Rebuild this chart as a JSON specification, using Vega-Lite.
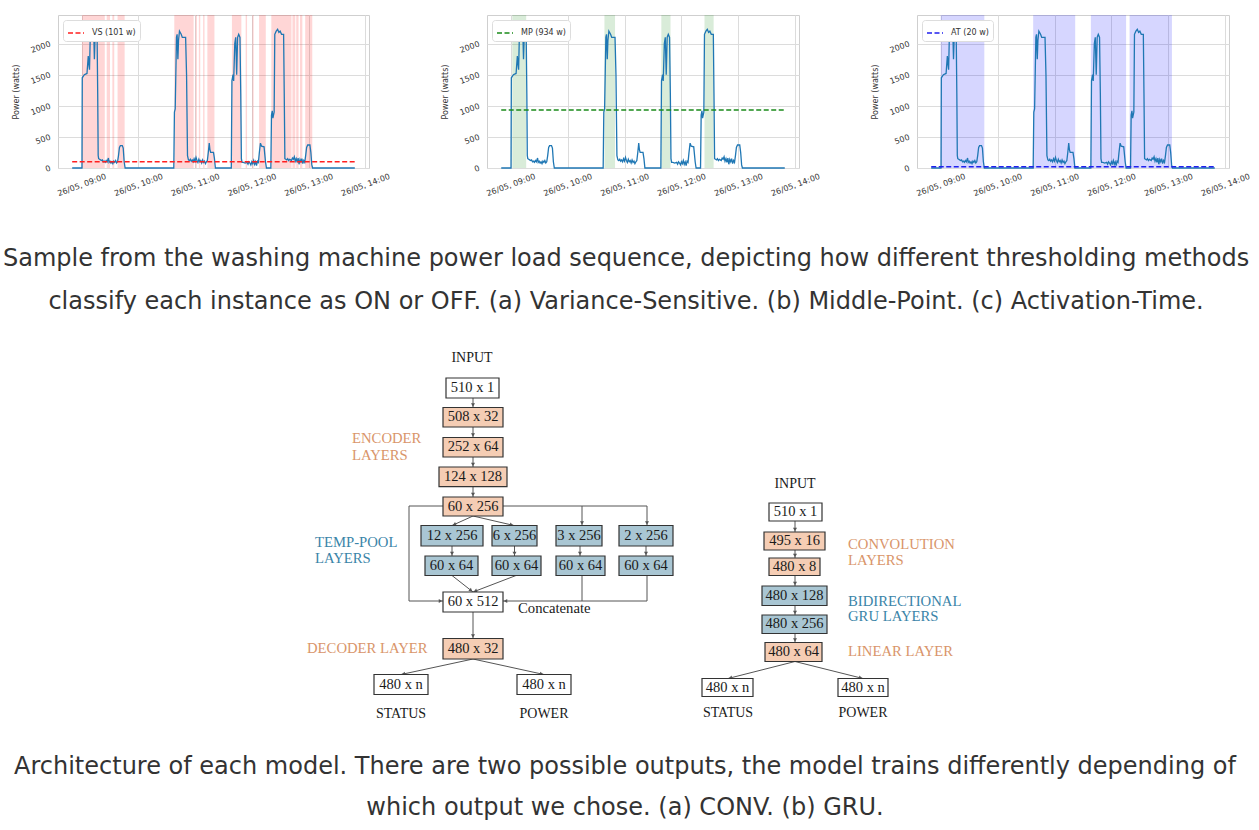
{
  "$schema": "https://vega.github.io/schema/vega-lite/v6.json",
  "background": "white",
  "padding": {"left": 2, "top": 14, "right": 0, "bottom": 0},
  "config": {
    "font": "DejaVu Sans",
    "view": {"stroke": "#cfcfcf", "strokeWidth": 1},
    "axis": {"domain": false, "ticks": false, "gridColor": "#dcdcdc", "gridWidth": 1, "labelFont": "DejaVu Sans", "labelFontSize": 8, "labelColor": "#333", "titleFont": "DejaVu Sans", "titleFontSize": 8, "titleFontWeight": "normal", "titleColor": "#333"}
  },
  "datasets": {
    "power": [
      {"t": "2021-05-26T08:50:00", "w": 0}, {"t": "2021-05-26T09:00:20", "w": 0}, {"t": "2021-05-26T09:00:40", "w": 1450}, {"t": "2021-05-26T09:02:50", "w": 1500}, {"t": "2021-05-26T09:05:40", "w": 1520}, {"t": "2021-05-26T09:07:00", "w": 1800}, {"t": "2021-05-26T09:07:50", "w": 1650}, {"t": "2021-05-26T09:08:20", "w": 1580}, {"t": "2021-05-26T09:09:10", "w": 2150}, {"t": "2021-05-26T09:10:00", "w": 2100}, {"t": "2021-05-26T09:11:00", "w": 2200}, {"t": "2021-05-26T09:11:40", "w": 2150}, {"t": "2021-05-26T09:12:50", "w": 2150}, {"t": "2021-05-26T09:13:30", "w": 1750}, {"t": "2021-05-26T09:14:20", "w": 2150}, {"t": "2021-05-26T09:16:20", "w": 2150}, {"t": "2021-05-26T09:17:00", "w": 1200}, {"t": "2021-05-26T09:17:30", "w": 200}, {"t": "2021-05-26T09:18:00", "w": 150}, {"t": "2021-05-26T09:19:00", "w": 140}, {"t": "2021-05-26T09:20:00", "w": 130}, {"t": "2021-05-26T09:21:00", "w": 120}, {"t": "2021-05-26T09:22:00", "w": 130}, {"t": "2021-05-26T09:23:00", "w": 100}, {"t": "2021-05-26T09:24:00", "w": 110}, {"t": "2021-05-26T09:25:00", "w": 90}, {"t": "2021-05-26T09:26:00", "w": 120}, {"t": "2021-05-26T09:27:00", "w": 100}, {"t": "2021-05-26T09:28:20", "w": 160}, {"t": "2021-05-26T09:29:00", "w": 90}, {"t": "2021-05-26T09:30:00", "w": 110}, {"t": "2021-05-26T09:31:00", "w": 80}, {"t": "2021-05-26T09:32:00", "w": 100}, {"t": "2021-05-26T09:33:00", "w": 70}, {"t": "2021-05-26T09:34:00", "w": 110}, {"t": "2021-05-26T09:35:00", "w": 90}, {"t": "2021-05-26T09:36:00", "w": 120}, {"t": "2021-05-26T09:37:00", "w": 80}, {"t": "2021-05-26T09:38:00", "w": 100}, {"t": "2021-05-26T09:39:00", "w": 200}, {"t": "2021-05-26T09:40:00", "w": 330}, {"t": "2021-05-26T09:41:00", "w": 360}, {"t": "2021-05-26T09:43:00", "w": 360}, {"t": "2021-05-26T09:44:00", "w": 320}, {"t": "2021-05-26T09:45:00", "w": 100}, {"t": "2021-05-26T09:46:00", "w": 0},
      {"t": "2021-05-26T10:37:30", "w": 0}, {"t": "2021-05-26T10:38:10", "w": 900}, {"t": "2021-05-26T10:39:00", "w": 950}, {"t": "2021-05-26T10:40:20", "w": 2100}, {"t": "2021-05-26T10:41:00", "w": 2150}, {"t": "2021-05-26T10:41:50", "w": 1750}, {"t": "2021-05-26T10:42:30", "w": 2050}, {"t": "2021-05-26T10:43:30", "w": 2200}, {"t": "2021-05-26T10:45:20", "w": 2150}, {"t": "2021-05-26T10:46:30", "w": 2100}, {"t": "2021-05-26T10:50:00", "w": 2100}, {"t": "2021-05-26T10:51:00", "w": 1500}, {"t": "2021-05-26T10:52:00", "w": 200}, {"t": "2021-05-26T10:53:00", "w": 130}, {"t": "2021-05-26T10:54:00", "w": 120}, {"t": "2021-05-26T10:55:00", "w": 140}, {"t": "2021-05-26T10:56:00", "w": 110}, {"t": "2021-05-26T10:57:00", "w": 130}, {"t": "2021-05-26T10:58:00", "w": 100}, {"t": "2021-05-26T10:59:00", "w": 150}, {"t": "2021-05-26T11:00:00", "w": 110}, {"t": "2021-05-26T11:01:00", "w": 170}, {"t": "2021-05-26T11:02:00", "w": 120}, {"t": "2021-05-26T11:03:00", "w": 90}, {"t": "2021-05-26T11:04:00", "w": 140}, {"t": "2021-05-26T11:05:00", "w": 100}, {"t": "2021-05-26T11:06:00", "w": 120}, {"t": "2021-05-26T11:07:00", "w": 80}, {"t": "2021-05-26T11:08:00", "w": 130}, {"t": "2021-05-26T11:09:00", "w": 90}, {"t": "2021-05-26T11:10:00", "w": 110}, {"t": "2021-05-26T11:11:00", "w": 70}, {"t": "2021-05-26T11:12:00", "w": 100}, {"t": "2021-05-26T11:13:00", "w": 120}, {"t": "2021-05-26T11:14:00", "w": 250}, {"t": "2021-05-26T11:15:00", "w": 400}, {"t": "2021-05-26T11:15:40", "w": 300}, {"t": "2021-05-26T11:16:30", "w": 250}, {"t": "2021-05-26T11:19:30", "w": 250}, {"t": "2021-05-26T11:20:30", "w": 150}, {"t": "2021-05-26T11:21:30", "w": 0},
      {"t": "2021-05-26T11:38:20", "w": 0}, {"t": "2021-05-26T11:39:00", "w": 1400}, {"t": "2021-05-26T11:40:10", "w": 1500}, {"t": "2021-05-26T11:40:50", "w": 1400}, {"t": "2021-05-26T11:42:00", "w": 2000}, {"t": "2021-05-26T11:43:00", "w": 2100}, {"t": "2021-05-26T11:44:00", "w": 1500}, {"t": "2021-05-26T11:45:00", "w": 2100}, {"t": "2021-05-26T11:46:10", "w": 2150}, {"t": "2021-05-26T11:47:30", "w": 2100}, {"t": "2021-05-26T11:48:20", "w": 1200}, {"t": "2021-05-26T11:49:00", "w": 150}, {"t": "2021-05-26T11:49:40", "w": 90}, {"t": "2021-05-26T11:51:00", "w": 90}, {"t": "2021-05-26T11:53:00", "w": 80}, {"t": "2021-05-26T11:55:00", "w": 90}, {"t": "2021-05-26T11:56:00", "w": 60}, {"t": "2021-05-26T11:57:00", "w": 100}, {"t": "2021-05-26T11:58:00", "w": 80}, {"t": "2021-05-26T11:59:00", "w": 50}, {"t": "2021-05-26T12:00:00", "w": 100}, {"t": "2021-05-26T12:01:00", "w": 70}, {"t": "2021-05-26T12:02:00", "w": 120}, {"t": "2021-05-26T12:03:00", "w": 60}, {"t": "2021-05-26T12:04:00", "w": 100}, {"t": "2021-05-26T12:05:00", "w": 40}, {"t": "2021-05-26T12:06:00", "w": 110}, {"t": "2021-05-26T12:07:00", "w": 90}, {"t": "2021-05-26T12:08:00", "w": 250}, {"t": "2021-05-26T12:09:10", "w": 400}, {"t": "2021-05-26T12:10:20", "w": 350}, {"t": "2021-05-26T12:13:00", "w": 340}, {"t": "2021-05-26T12:14:30", "w": 100}, {"t": "2021-05-26T12:15:30", "w": 0},
      {"t": "2021-05-26T12:20:10", "w": 0}, {"t": "2021-05-26T12:20:50", "w": 850}, {"t": "2021-05-26T12:21:40", "w": 920}, {"t": "2021-05-26T12:22:20", "w": 800}, {"t": "2021-05-26T12:23:40", "w": 900}, {"t": "2021-05-26T12:24:20", "w": 2150}, {"t": "2021-05-26T12:25:50", "w": 2200}, {"t": "2021-05-26T12:27:20", "w": 2230}, {"t": "2021-05-26T12:28:40", "w": 2180}, {"t": "2021-05-26T12:30:00", "w": 2200}, {"t": "2021-05-26T12:31:30", "w": 2150}, {"t": "2021-05-26T12:33:40", "w": 2150}, {"t": "2021-05-26T12:34:20", "w": 1200}, {"t": "2021-05-26T12:35:00", "w": 150}, {"t": "2021-05-26T12:36:00", "w": 140}, {"t": "2021-05-26T12:37:00", "w": 130}, {"t": "2021-05-26T12:38:00", "w": 150}, {"t": "2021-05-26T12:39:00", "w": 120}, {"t": "2021-05-26T12:40:00", "w": 140}, {"t": "2021-05-26T12:41:00", "w": 130}, {"t": "2021-05-26T12:42:00", "w": 120}, {"t": "2021-05-26T12:43:00", "w": 160}, {"t": "2021-05-26T12:44:00", "w": 140}, {"t": "2021-05-26T12:45:00", "w": 180}, {"t": "2021-05-26T12:46:00", "w": 110}, {"t": "2021-05-26T12:47:00", "w": 150}, {"t": "2021-05-26T12:48:00", "w": 90}, {"t": "2021-05-26T12:49:00", "w": 160}, {"t": "2021-05-26T12:50:00", "w": 60}, {"t": "2021-05-26T12:51:00", "w": 140}, {"t": "2021-05-26T12:52:00", "w": 100}, {"t": "2021-05-26T12:53:00", "w": 150}, {"t": "2021-05-26T12:54:00", "w": 70}, {"t": "2021-05-26T12:55:00", "w": 120}, {"t": "2021-05-26T12:56:00", "w": 90}, {"t": "2021-05-26T12:57:00", "w": 200}, {"t": "2021-05-26T12:58:00", "w": 330}, {"t": "2021-05-26T12:59:10", "w": 370}, {"t": "2021-05-26T13:01:30", "w": 370}, {"t": "2021-05-26T13:02:30", "w": 250}, {"t": "2021-05-26T13:03:30", "w": 50}, {"t": "2021-05-26T13:04:20", "w": 0}, {"t": "2021-05-26T13:49:00", "w": 0}
    ],
    "vs": [
      {"s": "2021-05-26T09:00:20", "e": "2021-05-26T09:24:30"}, {"s": "2021-05-26T09:26:30", "e": "2021-05-26T09:30:00"}, {"s": "2021-05-26T09:32:30", "e": "2021-05-26T09:34:30"}, {"s": "2021-05-26T09:38:00", "e": "2021-05-26T09:45:30"},
      {"s": "2021-05-26T10:38:00", "e": "2021-05-26T10:58:30"}, {"s": "2021-05-26T11:00:30", "e": "2021-05-26T11:02:00"}, {"s": "2021-05-26T11:04:00", "e": "2021-05-26T11:05:30"}, {"s": "2021-05-26T11:08:30", "e": "2021-05-26T11:10:00"}, {"s": "2021-05-26T11:13:00", "e": "2021-05-26T11:20:30"},
      {"s": "2021-05-26T11:39:00", "e": "2021-05-26T11:49:00"}, {"s": "2021-05-26T11:53:30", "e": "2021-05-26T11:55:00"}, {"s": "2021-05-26T12:00:30", "e": "2021-05-26T12:02:00"}, {"s": "2021-05-26T12:07:40", "e": "2021-05-26T12:14:50"},
      {"s": "2021-05-26T12:20:40", "e": "2021-05-26T12:42:00"}, {"s": "2021-05-26T12:43:00", "e": "2021-05-26T12:46:00"}, {"s": "2021-05-26T12:47:00", "e": "2021-05-26T12:49:30"}, {"s": "2021-05-26T12:51:00", "e": "2021-05-26T12:53:30"}, {"s": "2021-05-26T12:56:30", "e": "2021-05-26T13:04:00"}
    ],
    "mp": [
      {"s": "2021-05-26T09:01:40", "e": "2021-05-26T09:16:20"}, {"s": "2021-05-26T10:38:50", "e": "2021-05-26T10:50:00"}, {"s": "2021-05-26T11:38:50", "e": "2021-05-26T11:48:30"}, {"s": "2021-05-26T12:24:20", "e": "2021-05-26T12:34:00"}
    ],
    "at": [
      {"s": "2021-05-26T09:00:00", "e": "2021-05-26T09:46:00"}, {"s": "2021-05-26T10:37:30", "e": "2021-05-26T11:21:50"}, {"s": "2021-05-26T11:38:20", "e": "2021-05-26T12:15:30"}, {"s": "2021-05-26T12:19:10", "e": "2021-05-26T13:03:50"}
    ],
    "thr": [
      {"m": "VS", "label": "VS (101 w)", "v": 101, "s": "2021-05-26T08:50:00", "e": "2021-05-26T13:49:00"},
      {"m": "MP", "label": "MP (934 w)", "v": 934, "s": "2021-05-26T08:50:00", "e": "2021-05-26T13:49:00"},
      {"m": "AT", "label": "AT (20 w)", "v": 20, "s": "2021-05-26T08:50:00", "e": "2021-05-26T13:49:00"}
    ],
    "boxes": [
      {"x1": 446, "x2": 499, "y1": 377, "y2": 397, "cx": 472.5, "cy": 387, "label": "510 x 1", "kind": "io"},
      {"x1": 443, "x2": 503, "y1": 406.5, "y2": 426, "cx": 473, "cy": 416.3, "label": "508 x 32", "kind": "enc"},
      {"x1": 443, "x2": 503, "y1": 436.5, "y2": 456, "cx": 473, "cy": 446.3, "label": "252 x 64", "kind": "enc"},
      {"x1": 439, "x2": 507, "y1": 466, "y2": 485.7, "cx": 473, "cy": 475.9, "label": "124 x 128", "kind": "enc"},
      {"x1": 443, "x2": 503, "y1": 496, "y2": 515, "cx": 473, "cy": 505.5, "label": "60 x 256", "kind": "enc"},
      {"x1": 421, "x2": 483, "y1": 524.5, "y2": 545, "cx": 452, "cy": 534.8, "label": "12 x 256", "kind": "pool"},
      {"x1": 492, "x2": 537, "y1": 524.5, "y2": 545, "cx": 514.5, "cy": 534.8, "label": "6 x 256", "kind": "pool"},
      {"x1": 556, "x2": 602, "y1": 524.5, "y2": 545, "cx": 579, "cy": 534.8, "label": "3 x 256", "kind": "pool"},
      {"x1": 619, "x2": 673, "y1": 524.5, "y2": 545, "cx": 646, "cy": 534.8, "label": "2 x 256", "kind": "pool"},
      {"x1": 425, "x2": 478, "y1": 555, "y2": 574.5, "cx": 451.5, "cy": 564.8, "label": "60 x 64", "kind": "pool"},
      {"x1": 492, "x2": 541, "y1": 555, "y2": 574.5, "cx": 516.5, "cy": 564.8, "label": "60 x 64", "kind": "pool"},
      {"x1": 556, "x2": 605, "y1": 555, "y2": 574.5, "cx": 580.5, "cy": 564.8, "label": "60 x 64", "kind": "pool"},
      {"x1": 619, "x2": 673, "y1": 555, "y2": 574.5, "cx": 646, "cy": 564.8, "label": "60 x 64", "kind": "pool"},
      {"x1": 443, "x2": 503, "y1": 591, "y2": 611, "cx": 473, "cy": 601, "label": "60 x 512", "kind": "io"},
      {"x1": 443, "x2": 503, "y1": 637.5, "y2": 658, "cx": 473, "cy": 647.8, "label": "480 x 32", "kind": "enc"},
      {"x1": 374, "x2": 428, "y1": 673.5, "y2": 693.5, "cx": 401, "cy": 683.5, "label": "480 x n", "kind": "io"},
      {"x1": 517, "x2": 571, "y1": 673.5, "y2": 693.5, "cx": 544, "cy": 683.5, "label": "480 x n", "kind": "io"},
      {"x1": 769, "x2": 822, "y1": 502, "y2": 520, "cx": 795.5, "cy": 511, "label": "510 x 1", "kind": "io"},
      {"x1": 764, "x2": 825, "y1": 531, "y2": 549, "cx": 794.5, "cy": 540, "label": "495 x 16", "kind": "enc"},
      {"x1": 769, "x2": 820, "y1": 557, "y2": 574.5, "cx": 794.5, "cy": 565.8, "label": "480 x 8", "kind": "enc"},
      {"x1": 762, "x2": 827, "y1": 585, "y2": 604.5, "cx": 794.5, "cy": 594.8, "label": "480 x 128", "kind": "pool"},
      {"x1": 762, "x2": 827, "y1": 614, "y2": 632.5, "cx": 794.5, "cy": 623.3, "label": "480 x 256", "kind": "pool"},
      {"x1": 765, "x2": 822, "y1": 641.5, "y2": 660.5, "cx": 793.5, "cy": 651, "label": "480 x 64", "kind": "enc"},
      {"x1": 702, "x2": 753, "y1": 677.5, "y2": 695.5, "cx": 727.5, "cy": 686.5, "label": "480 x n", "kind": "io"},
      {"x1": 838, "x2": 888, "y1": 677.5, "y2": 695.5, "cx": 863, "cy": 686.5, "label": "480 x n", "kind": "io"}
    ],
    "segs": [
      {"x": 473, "y": 397, "x2": 473, "y2": 406.5}, {"x": 473, "y": 426, "x2": 473, "y2": 436.5}, {"x": 473, "y": 456, "x2": 473, "y2": 466}, {"x": 473, "y": 485.7, "x2": 473, "y2": 496},
      {"x": 473, "y": 515, "x2": 452, "y2": 524.5}, {"x": 473, "y": 515, "x2": 514, "y2": 524.5},
      {"x": 503, "y": 505, "x2": 647, "y2": 505}, {"x": 582, "y": 505, "x2": 582, "y2": 524.5}, {"x": 647, "y": 505, "x2": 647, "y2": 524.5},
      {"x": 443, "y": 505, "x2": 409, "y2": 505}, {"x": 409, "y": 505, "x2": 409, "y2": 600}, {"x": 409, "y": 600, "x2": 443, "y2": 600},
      {"x": 452, "y": 545, "x2": 452, "y2": 555}, {"x": 514.5, "y": 545, "x2": 514.5, "y2": 555}, {"x": 580, "y": 545, "x2": 580, "y2": 555}, {"x": 646, "y": 545, "x2": 646, "y2": 555},
      {"x": 452, "y": 574.5, "x2": 473, "y2": 591}, {"x": 516, "y": 574.5, "x2": 473, "y2": 591},
      {"x": 582, "y": 574.5, "x2": 582, "y2": 600}, {"x": 647, "y": 574.5, "x2": 647, "y2": 600}, {"x": 647, "y": 600, "x2": 503, "y2": 600},
      {"x": 473, "y": 611, "x2": 473, "y2": 637.5}, {"x": 473, "y": 658, "x2": 401, "y2": 673.5}, {"x": 473, "y": 658, "x2": 544, "y2": 673.5},
      {"x": 795, "y": 520, "x2": 795, "y2": 531}, {"x": 795, "y": 549, "x2": 795, "y2": 557}, {"x": 795, "y": 574.5, "x2": 795, "y2": 585}, {"x": 795, "y": 604.5, "x2": 795, "y2": 614}, {"x": 795, "y": 632.5, "x2": 795, "y2": 641.5},
      {"x": 795, "y": 660.5, "x2": 728, "y2": 677.5}, {"x": 795, "y": 660.5, "x2": 863, "y2": 677.5}
    ],
    "heads": [
      {"x": 473, "y": 404, "a": 180}, {"x": 473, "y": 434, "a": 180}, {"x": 473, "y": 463.5, "a": 180}, {"x": 473, "y": 493.5, "a": 180},
      {"x": 454.3, "y": 523.5, "a": 246}, {"x": 511.6, "y": 523.9, "a": 103},
      {"x": 582, "y": 522, "a": 180}, {"x": 647, "y": 522, "a": 180}, {"x": 440.5, "y": 600, "a": 90},
      {"x": 452, "y": 552.5, "a": 180}, {"x": 514.5, "y": 552.5, "a": 180}, {"x": 580, "y": 552.5, "a": 180}, {"x": 646, "y": 552.5, "a": 180},
      {"x": 471, "y": 589.5, "a": 128}, {"x": 475.3, "y": 590.1, "a": 249}, {"x": 505.5, "y": 600, "a": 270},
      {"x": 473, "y": 635, "a": 180}, {"x": 403.4, "y": 673, "a": 258}, {"x": 541.6, "y": 673, "a": 102},
      {"x": 795, "y": 528.5, "a": 180}, {"x": 795, "y": 554.5, "a": 180}, {"x": 795, "y": 582.5, "a": 180}, {"x": 795, "y": 611.5, "a": 180}, {"x": 795, "y": 639, "a": 180},
      {"x": 730.4, "y": 676.9, "a": 256}, {"x": 860.6, "y": 676.9, "a": 104}
    ],
    "side": [
      {"x": 352, "y": 438, "text": "ENCODER", "kind": "enc"}, {"x": 352, "y": 455, "text": "LAYERS", "kind": "enc"},
      {"x": 315, "y": 542, "text": "TEMP-POOL", "kind": "pool"}, {"x": 315, "y": 558, "text": "LAYERS", "kind": "pool"},
      {"x": 518, "y": 608, "text": "Concatenate", "kind": "dark"},
      {"x": 307, "y": 648, "text": "DECODER LAYER", "kind": "enc"},
      {"x": 848, "y": 544, "text": "CONVOLUTION", "kind": "enc"}, {"x": 848, "y": 560, "text": "LAYERS", "kind": "enc"},
      {"x": 848, "y": 601, "text": "BIDIRECTIONAL", "kind": "pool"}, {"x": 848, "y": 616, "text": "GRU LAYERS", "kind": "pool"},
      {"x": 848, "y": 651, "text": "LINEAR LAYER", "kind": "enc"}
    ],
    "heads2": [
      {"x": 472, "y": 357, "text": "INPUT"}, {"x": 401, "y": 713, "text": "STATUS"}, {"x": 544, "y": 713, "text": "POWER"},
      {"x": 795, "y": 483, "text": "INPUT"}, {"x": 728, "y": 712, "text": "STATUS"}, {"x": 863, "y": 712, "text": "POWER"}
    ]
  },
  "title": {"text": ["Architecture of each model. There are two possible outputs, the model trains differently depending of", "which output we chose. (a) CONV. (b) GRU."], "orient": "bottom", "anchor": "middle", "font": "DejaVu Sans", "fontSize": 24, "fontWeight": "normal", "color": "#333", "lineHeight": 41, "offset": 24, "dx": -6},
  "resolve": {"scale": {"color": "independent", "fill": "independent"}, "legend": {"color": "independent"}},
  "spacing": 16,
  "vconcat": [
    {
      "title": {"text": ["Sample from the washing machine power load sequence, depicting how different thresholding methods", "classify each instance as ON or OFF. (a) Variance-Sensitive. (b) Middle-Point. (c) Activation-Time."], "orient": "bottom", "anchor": "middle", "font": "DejaVu Sans", "fontSize": 24, "fontWeight": "normal", "color": "#333", "lineHeight": 43, "offset": 49, "dx": -5.5},
      "hconcat": [
        {
          "width": 311, "height": 153,
          "layer": [
            {"data": {"name": "vs"}, "mark": {"type": "rect", "color": "#ff0000", "opacity": 0.16},
             "encoding": {"x": {"field": "s", "type": "temporal", "scale": {"domain": [{"year": 2021, "month": 5, "date": 26, "hours": 8, "minutes": 35}, {"year": 2021, "month": 5, "date": 26, "hours": 14, "minutes": 4}], "nice": false},
               "axis": {"title": null, "format": "%d/%m, %H:%M", "values": [{"year": 2021, "month": 5, "date": 26, "hours": 9}, {"year": 2021, "month": 5, "date": 26, "hours": 10}, {"year": 2021, "month": 5, "date": 26, "hours": 11}, {"year": 2021, "month": 5, "date": 26, "hours": 12}, {"year": 2021, "month": 5, "date": 26, "hours": 13}, {"year": 2021, "month": 5, "date": 26, "hours": 14}], "labelAngle": -20, "labelAlign": "center", "labelBaseline": "middle", "labelPadding": 17, "labelFlush": false, "labelOverlap": false}},
              "x2": {"field": "e"}}},
            {"data": {"name": "power"}, "mark": {"type": "line", "color": "#1f77b4", "strokeWidth": 1.3},
             "encoding": {"x": {"field": "t", "type": "temporal"}, "y": {"field": "w", "type": "quantitative", "scale": {"domain": [0, 2460], "nice": false}, "axis": {"title": "Power (watts)", "values": [0, 500, 1000, 1500, 2000], "tickCount": 6, "format": "d", "labelOverlap": false, "labelAngle": -20, "labelAlign": "right", "labelBaseline": "middle", "labelPadding": 8, "titlePadding": 9}}}},
            {"data": {"name": "thr"}, "transform": [{"filter": "datum.m === 'VS'"}], "mark": {"type": "rule", "strokeDash": [5, 2.5], "strokeWidth": 1.5},
             "encoding": {"x": {"field": "s", "type": "temporal"}, "x2": {"field": "e"}, "y": {"field": "v", "type": "quantitative", "axis": {"title": "Power (watts)", "values": [0, 500, 1000, 1500, 2000], "tickCount": 6, "format": "d", "labelOverlap": false, "labelAngle": -20, "labelAlign": "right", "labelBaseline": "middle", "labelPadding": 8, "titlePadding": 9}}, "color": {"field": "label", "type": "nominal", "scale": {"range": ["#ff2020"]}, "legend": {"title": null, "orient": "top-left", "offset": 5, "padding": 4, "fillColor": "white", "strokeColor": "#dddddd", "cornerRadius": 3, "symbolType": "stroke", "symbolSize": 256, "symbolStrokeWidth": 1.5, "symbolDash": [5, 2.5], "labelOffset": 7, "labelFontSize": 8, "labelColor": "#333"}}}}
          ]
        },
        {
          "width": 312, "height": 153,
          "layer": [
            {"data": {"name": "mp"}, "mark": {"type": "rect", "color": "#008000", "opacity": 0.15},
             "encoding": {"x": {"field": "s", "type": "temporal", "scale": {"domain": [{"year": 2021, "month": 5, "date": 26, "hours": 8, "minutes": 35}, {"year": 2021, "month": 5, "date": 26, "hours": 14, "minutes": 4}], "nice": false},
               "axis": {"title": null, "format": "%d/%m, %H:%M", "values": [{"year": 2021, "month": 5, "date": 26, "hours": 9}, {"year": 2021, "month": 5, "date": 26, "hours": 10}, {"year": 2021, "month": 5, "date": 26, "hours": 11}, {"year": 2021, "month": 5, "date": 26, "hours": 12}, {"year": 2021, "month": 5, "date": 26, "hours": 13}, {"year": 2021, "month": 5, "date": 26, "hours": 14}], "labelAngle": -20, "labelAlign": "center", "labelBaseline": "middle", "labelPadding": 17, "labelFlush": false, "labelOverlap": false}},
              "x2": {"field": "e"}}},
            {"data": {"name": "power"}, "mark": {"type": "line", "color": "#1f77b4", "strokeWidth": 1.3},
             "encoding": {"x": {"field": "t", "type": "temporal"}, "y": {"field": "w", "type": "quantitative", "scale": {"domain": [0, 2460], "nice": false}, "axis": {"title": "Power (watts)", "values": [0, 500, 1000, 1500, 2000], "tickCount": 6, "format": "d", "labelOverlap": false, "labelAngle": -20, "labelAlign": "right", "labelBaseline": "middle", "labelPadding": 8, "titlePadding": 9}}}},
            {"data": {"name": "thr"}, "transform": [{"filter": "datum.m === 'MP'"}], "mark": {"type": "rule", "strokeDash": [5, 2.5], "strokeWidth": 1.5},
             "encoding": {"x": {"field": "s", "type": "temporal"}, "x2": {"field": "e"}, "y": {"field": "v", "type": "quantitative", "axis": {"title": "Power (watts)", "values": [0, 500, 1000, 1500, 2000], "tickCount": 6, "format": "d", "labelOverlap": false, "labelAngle": -20, "labelAlign": "right", "labelBaseline": "middle", "labelPadding": 8, "titlePadding": 9}}, "color": {"field": "label", "type": "nominal", "scale": {"range": ["#1a8a1a"]}, "legend": {"title": null, "orient": "top-left", "offset": 5, "padding": 4, "fillColor": "white", "strokeColor": "#dddddd", "cornerRadius": 3, "symbolType": "stroke", "symbolSize": 256, "symbolStrokeWidth": 1.5, "symbolDash": [5, 2.5], "labelOffset": 7, "labelFontSize": 8, "labelColor": "#333"}}}}
          ]
        },
        {
          "width": 312, "height": 153,
          "layer": [
            {"data": {"name": "at"}, "mark": {"type": "rect", "color": "#0000ff", "opacity": 0.16},
             "encoding": {"x": {"field": "s", "type": "temporal", "scale": {"domain": [{"year": 2021, "month": 5, "date": 26, "hours": 8, "minutes": 35}, {"year": 2021, "month": 5, "date": 26, "hours": 14, "minutes": 4}], "nice": false},
               "axis": {"title": null, "format": "%d/%m, %H:%M", "values": [{"year": 2021, "month": 5, "date": 26, "hours": 9}, {"year": 2021, "month": 5, "date": 26, "hours": 10}, {"year": 2021, "month": 5, "date": 26, "hours": 11}, {"year": 2021, "month": 5, "date": 26, "hours": 12}, {"year": 2021, "month": 5, "date": 26, "hours": 13}, {"year": 2021, "month": 5, "date": 26, "hours": 14}], "labelAngle": -20, "labelAlign": "center", "labelBaseline": "middle", "labelPadding": 17, "labelFlush": false, "labelOverlap": false}},
              "x2": {"field": "e"}}},
            {"data": {"name": "power"}, "mark": {"type": "line", "color": "#1f77b4", "strokeWidth": 1.3},
             "encoding": {"x": {"field": "t", "type": "temporal"}, "y": {"field": "w", "type": "quantitative", "scale": {"domain": [0, 2460], "nice": false}, "axis": {"title": "Power (watts)", "values": [0, 500, 1000, 1500, 2000], "tickCount": 6, "format": "d", "labelOverlap": false, "labelAngle": -20, "labelAlign": "right", "labelBaseline": "middle", "labelPadding": 8, "titlePadding": 9}}}},
            {"data": {"name": "thr"}, "transform": [{"filter": "datum.m === 'AT'"}], "mark": {"type": "rule", "strokeDash": [5, 2.5], "strokeWidth": 1.5},
             "encoding": {"x": {"field": "s", "type": "temporal"}, "x2": {"field": "e"}, "y": {"field": "v", "type": "quantitative", "axis": {"title": "Power (watts)", "values": [0, 500, 1000, 1500, 2000], "tickCount": 6, "format": "d", "labelOverlap": false, "labelAngle": -20, "labelAlign": "right", "labelBaseline": "middle", "labelPadding": 8, "titlePadding": 9}}, "color": {"field": "label", "type": "nominal", "scale": {"range": ["#2020ee"]}, "legend": {"title": null, "orient": "top-left", "offset": 5, "padding": 4, "fillColor": "white", "strokeColor": "#dddddd", "cornerRadius": 3, "symbolType": "stroke", "symbolSize": 256, "symbolStrokeWidth": 1.5, "symbolDash": [5, 2.5], "labelOffset": 7, "labelFontSize": 8, "labelColor": "#333"}}}}
          ]
        }
      ],
      "spacing": 49,
      "resolve": {"scale": {"color": "independent"}, "legend": {"color": "independent"}}
    },
    {
      "width": 1201, "height": 400,
      "view": {"stroke": null},
      "layer": [
        {"data": {"name": "segs"}, "mark": {"type": "rule", "color": "#555", "strokeWidth": 1},
         "encoding": {"x": {"field": "x", "type": "quantitative", "scale": {"domain": [58, 1259], "nice": false, "zero": false}, "axis": null},
                      "y": {"field": "y", "type": "quantitative", "scale": {"domain": [330, 730], "nice": false, "zero": false, "reverse": true}, "axis": null},
                      "x2": {"field": "x2"}, "y2": {"field": "y2"}}},
        {"data": {"name": "heads"}, "mark": {"type": "point", "shape": "triangle-up", "filled": true, "color": "#555", "size": 16, "opacity": 1},
         "encoding": {"x": {"field": "x", "type": "quantitative", "axis": null}, "y": {"field": "y", "type": "quantitative", "axis": null}, "angle": {"field": "a", "type": "quantitative", "scale": null}}},
        {"data": {"name": "boxes"}, "mark": {"type": "rect", "stroke": "#333", "strokeWidth": 1.2},
         "encoding": {"x": {"field": "x1", "type": "quantitative", "axis": null}, "x2": {"field": "x2"}, "y": {"field": "y1", "type": "quantitative", "axis": null}, "y2": {"field": "y2"},
                      "fill": {"field": "kind", "type": "nominal", "scale": {"domain": ["io", "enc", "pool"], "range": ["#ffffff", "#f5cdb4", "#a9c6d3"]}, "legend": null}}},
        {"data": {"name": "boxes"}, "mark": {"type": "text", "font": "Liberation Serif", "fontSize": 14.5, "color": "#1a1a1a", "baseline": "middle", "align": "center"},
         "encoding": {"x": {"field": "cx", "type": "quantitative", "axis": null}, "y": {"field": "cy", "type": "quantitative", "axis": null}, "text": {"field": "label"}}},
        {"data": {"name": "side"}, "mark": {"type": "text", "font": "Liberation Serif", "fontSize": 14.7, "baseline": "middle", "align": "left"},
         "encoding": {"x": {"field": "x", "type": "quantitative", "axis": null}, "y": {"field": "y", "type": "quantitative", "axis": null}, "text": {"field": "text"},
                      "color": {"field": "kind", "type": "nominal", "scale": {"domain": ["dark", "enc", "pool"], "range": ["#1a1a1a", "#d9956a", "#3a84a8"]}, "legend": null}}},
        {"data": {"name": "heads2"}, "mark": {"type": "text", "font": "Liberation Serif", "fontSize": 14, "baseline": "middle", "align": "center", "color": "#1a1a1a"},
         "encoding": {"x": {"field": "x", "type": "quantitative", "axis": null}, "y": {"field": "y", "type": "quantitative", "axis": null}, "text": {"field": "text"}}}
      ]
    }
  ]
}
